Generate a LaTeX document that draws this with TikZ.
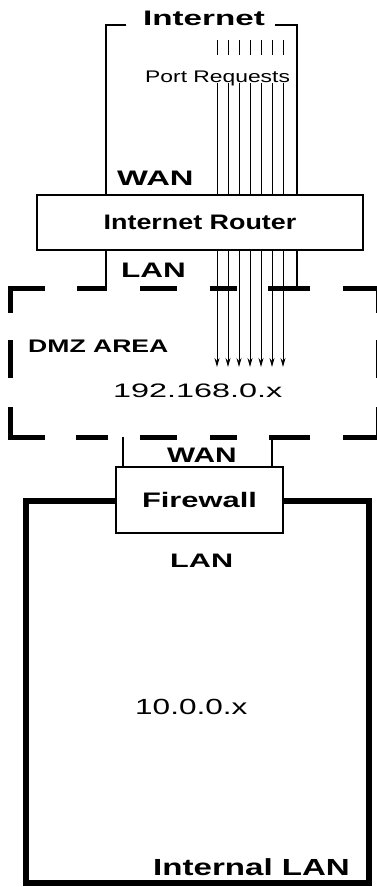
\documentclass[tikz,border=0pt]{standalone}
\usepackage{fontspec}
\setmainfont{Liberation Sans}
\usepackage{graphicx}
\usetikzlibrary{arrows.meta,positioning}
% text set at a given size and stretched sideways
\newcommand{\wtxt}[3]{\fontsize{#1}{#1}\selectfont\scalebox{#2}[1]{#3}}

\begin{document}
\begin{tikzpicture}[x=1pt, y=-1pt,
    lbl/.style={inner sep=0pt, anchor=base west},
    devbox/.style={draw, line width=2.5pt, fill=white, inner sep=0pt},
    wire/.style={line width=2.5pt},
    portline/.style={line width=1pt},
    zonebox/.style={draw, line width=5.5pt, inner sep=0pt},
    dmzline/.style={line width=5pt, dash pattern=on 0pt off 32pt on 30pt off 33pt on 37pt off 33pt on 27pt off 31pt on 42pt off 33pt on 60pt off 27pt on 38pt off 29pt on 65pt off 33pt on 41pt off 32pt on 27pt off 33pt on 37pt off 32pt on 32pt off 31pt on 65pt off 29pt on 38pt off 27pt on 60pt}
  ]
  \useasboundingbox (0,0) rectangle (376,887);

  % Internal LAN and firewall
  \node[zonebox, minimum width=343pt, minimum height=382pt] (lan) at (197.5,692) {};
  \node[devbox, minimum width=167pt, minimum height=66pt] (fw) at (199.5,500) {\wtxt{21}{1.47}{\bfseries Firewall}};
  \node[lbl] (lanlbl) at (170,567) {\wtxt{19.5}{1.57}{\bfseries LAN}};
  \node[lbl] (lannet) at (135,714) {\wtxt{21.9}{1.44}{10.0.0.x}};
  \node[lbl] (lanname) at (153,875) {\wtxt{23.3}{1.42}{\bfseries Internal LAN}};

  % DMZ area
  \coordinate (dmzNW) at (10,288);
  \coordinate (dmzNE) at (378,288);
  \coordinate (dmzSE) at (378,437);
  \coordinate (dmzSW) at (10,437);
  \coordinate (dmzStart) at (45,288);
  \draw[dmzline] (dmzStart) -- (dmzNE) -- (dmzSE) -- (dmzSW) -- (dmzNW) -- cycle;
  \node[lbl] (dmzlbl) at (28,352) {\wtxt{18.2}{1.46}{\bfseries DMZ AREA}};
  \node[lbl] (dmznet) at (113,397) {\wtxt{19.5}{1.66}{192.168.0.x}};

  % Firewall WAN side
  \coordinate (fwL) at (123,437);
  \coordinate (fwR) at (272,437);
  \draw[wire] (fwL) -- (fwL |- fw.north);
  \draw[wire] (fwR) -- (fwR |- fw.north);
  \node[lbl] (fwwan) at (167,462) {\wtxt{21}{1.42}{\bfseries WAN}};

  % Internet router
  \node[devbox, minimum width=326pt, minimum height=55pt] (router) at (200,222.5) {\wtxt{21}{1.28}{\bfseries Internet Router}};
  \node[lbl] (rtwan) at (117,185) {\wtxt{21}{1.56}{\bfseries WAN}};
  \node[lbl] (rtlan) at (121,277) {\wtxt{21}{1.5}{\bfseries LAN}};

  % Internet bracket
  \coordinate (inL) at (106,25);
  \coordinate (inR) at (297,25);
  \coordinate (brL) at (126,25);
  \coordinate (brR) at (275,25);
  \draw[wire] (brL) -- (inL) -- (inL |- router.north);
  \draw[wire] (brR) -- (inR) -- (inR |- router.north);
  \draw[wire] (inL |- router.south) -- (inL |- dmzNW);
  \draw[wire] (inR |- router.south) -- (inR |- dmzNW);
  \node[lbl] (inet) at (143,25) {\wtxt{21}{1.58}{\bfseries Internet}};
  \node[lbl] (ports) at (145,82) {\wtxt{16.8}{1.36}{Port Requests}};

  % port requests
  \foreach \x in {217,228,239,250,261,272,283} {
    \draw[portline] (\x,40) -- (\x,55);
    \draw[portline] (\x,83) -- (\x,0 |- router.north);
    \draw[portline, -{Stealth[length=9pt, width=5pt]}] (\x,0 |- router.south) -- (\x,367);
  }
\end{tikzpicture}
\end{document}
